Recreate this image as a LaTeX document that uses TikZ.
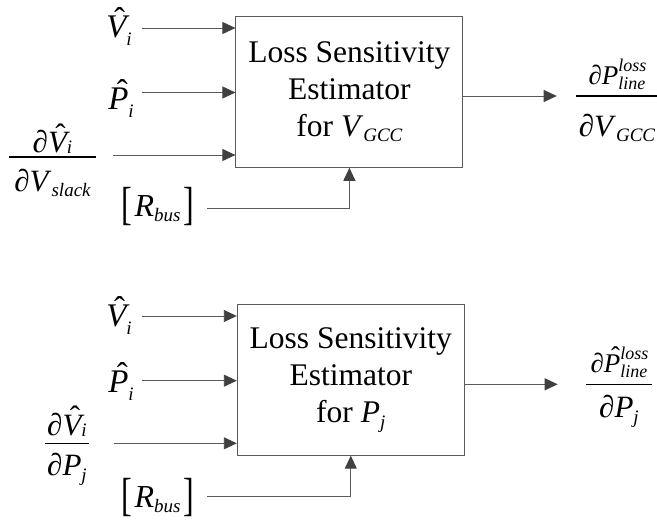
\documentclass[tikz,border=0pt]{standalone}
\usepackage{fontspec}
\setmainfont{Liberation Serif}
\usetikzlibrary{arrows.meta}
\definecolor{lncol}{HTML}{5A5A5A}
\definecolor{ahcol}{HTML}{404040}
% subscript
\newcommand{\sbx}[2][6pt]{\raisebox{-#1}{\fontsize{19}{19}\selectfont\itshape #2}}
% stacked super/subscript
\newcommand{\ssb}[2]{\rlap{\raisebox{13pt}{\fontsize{18}{18}\selectfont\itshape #1}}\raisebox{-5pt}{\fontsize{18}{18}\selectfont\itshape #2}}
% italic letter with hat
\newcommand{\hatL}[2][0.2em]{\ooalign{\itshape #2\cr\hidewidth\kern#1\raisebox{0.24em}{\upshape\char"02C6}\hidewidth\cr}}
% tall bracket
\newcommand{\tbr}[1]{\raisebox{-3pt}{\scalebox{1}[1.45]{\upshape #1}}}
% fraction: num, den, num raise, den lower, padding
\newcommand{\myfrac}[5]{%
  \begingroup
  \setbox0=\hbox{#1}\setbox2=\hbox{#2}%
  \dimen0=\wd0 \ifdim\wd2>\dimen0 \dimen0=\wd2\fi
  \advance\dimen0 by #5%
  \hbox{\rlap{\hbox to\dimen0{\hss\raisebox{#3}{\box0}\hss}}%
        \rlap{\hbox to\dimen0{\hss\raisebox{-#4}{\box2}\hss}}%
        \rule[-0.7pt]{\dimen0}{1.4pt}}%
  \endgroup}
\tikzset{
  blk/.style={draw=lncol, line width=1pt, fill=white, minimum width=227pt, minimum height=151pt,
    align=center, font=\fontsize{31.5}{37}\selectfont, inner sep=0pt},
  arr/.style={draw=lncol, line width=0.9pt, -{Triangle[length=13pt,width=12pt,color=ahcol]}},
  lab/.style={anchor=base, inner sep=0pt, font=\fontsize{33}{36}\selectfont},
  flab/.style={anchor=base, inner sep=0pt, font=\fontsize{31}{34}\selectfont},
  rlab/.style={anchor=base, inner sep=0pt, font=\fontsize{32}{36}\selectfont},
}
\begin{document}
\begin{tikzpicture}[x=1pt,y=-1pt]
\useasboundingbox (0,0) rectangle (657,521);
% ---------- top ----------
\node[blk] (b1) at (349.4,91.8) {Loss Sensitivity\\Estimator\\for \textit{V}\sbx[5pt]{GCC}};
\node[lab] (v1) at (119,38) {\hatL{V}\sbx[8pt]{i}};
\node[lab] (p1) at (121,110) {\hatL[0.25em]{P}\sbx[8pt]{i}};
\node[flab] (f1) at (52.5,157) {\myfrac{∂\hatL{V}\sbx[1pt]{i}}{∂\textit{V}\sbx[5pt]{slack}}{4pt}{35pt}{10pt}};
\node[rlab] (r1) at (158,217) {\tbr{[}\kern2pt\textit{R}\sbx[5pt]{bus}\kern3pt\tbr{]}};
\node[flab] (o1) at (617,96) {\myfrac{\fontsize{27}{30}\selectfont ∂\textit{P}\ssb{loss}{line}}{∂\textit{V}\sbx[5pt]{GCC}}{11pt}{41pt}{6pt}};
\coordinate (a1) at (142,28);
\coordinate (a2) at (142,92.5);
\coordinate (a3) at (113,155);
\coordinate (a4) at (207,208);
\coordinate (a5) at (556.7,96);
\draw[arr] (a1) -- (a1 -| b1.west);
\draw[arr] (a2) -- (a2 -| b1.west);
\draw[arr] (a3) -- (a3 -| b1.west);
\draw[arr] (a4) -| (b1.south);
\draw[arr] (a5 -| b1.east) -- (a5);
% ---------- bottom ----------
\node[blk] (b2) at (350.8,379.7) {Loss Sensitivity\\Estimator\\for \textit{P}\sbx[6pt]{j}};
\node[lab] (v2) at (119,327) {\hatL{V}\sbx[8pt]{i}};
\node[lab] (p2) at (121,393) {\hatL[0.25em]{P}\sbx[8pt]{i}};
\node[flab] (f2) at (67,443.3) {\myfrac{∂\hatL{V}\sbx[1pt]{i}}{∂\textit{P}\sbx[6pt]{j}}{8pt}{32pt}{5pt}};
\node[rlab] (r2) at (158,508) {\tbr{[}\kern2pt\textit{R}\sbx[5pt]{bus}\kern3pt\tbr{]}};
\node[flab] (o2) at (619,384.3) {\myfrac{\fontsize{27}{30}\selectfont ∂\hatL[0.25em]{P}\ssb{loss}{line}}{∂\textit{P}\sbx[6pt]{j}}{12pt}{33pt}{9pt}};
\coordinate (c1) at (142,316);
\coordinate (c2) at (142,380.7);
\coordinate (c3) at (114,443.3);
\coordinate (c4) at (207,496.7);
\coordinate (c5) at (557.7,384.3);
\draw[arr] (c1) -- (c1 -| b2.west);
\draw[arr] (c2) -- (c2 -| b2.west);
\draw[arr] (c3) -- (c3 -| b2.west);
\draw[arr] (c4) -| (b2.south);
\draw[arr] (c5 -| b2.east) -- (c5);
\end{tikzpicture}
\end{document}
